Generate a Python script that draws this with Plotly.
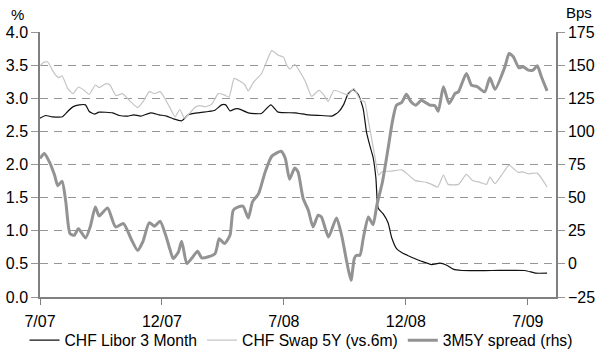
import plotly.graph_objects as go

# Weekly observation index (0 = start of July 2007) and the tick labels shown on the axis
tick_weeks = [0, 26, 52, 78, 104]
tick_labels = ["7/07", "12/07", "7/08", "12/08", "7/09"]

# CHF Libor 3 Month, %
libor_wk = [0, 1.2, 2.6, 4.8, 5.9, 7.0, 8.4, 9.7, 10.5, 11.6, 12.6, 15.5, 16.9, 18.7, 20.0,
            21.5, 23.6, 25.4, 27.0, 28.4, 30.2, 31.6, 33.7, 35.9, 37.3, 38.7, 39.6, 40.5, 41.6,
            42.4, 44.4, 47.2, 49.2, 50.8, 54.3, 57.2, 60.0, 62.2, 63.6, 64.7, 65.7, 66.8, 67.9,
            68.9, 69.6, 70.3, 71.0, 71.6, 72.1, 73.2, 74.2, 75.0, 76.0, 77.1, 79.2, 81.3, 83.5,
            85.2, 86.7, 88.1, 89.9, 96.3, 103.4, 105.6, 108.1]
libor_pct = [2.70, 2.74, 2.72, 2.72, 2.80, 2.87, 2.90, 2.90, 2.80, 2.76, 2.79, 2.78, 2.74, 2.73, 2.75,
             2.73, 2.78, 2.75, 2.73, 2.69, 2.66, 2.75, 2.78, 2.80, 2.82, 2.90, 2.90, 2.81, 2.84,
             2.84, 2.78, 2.77, 2.90, 2.79, 2.78, 2.75, 2.74, 2.73, 2.79, 2.90, 3.07, 3.13, 3.05,
             2.84, 2.49, 2.29, 2.11, 1.80, 1.34, 1.25, 1.12, 0.89, 0.73, 0.67, 0.60, 0.54, 0.49,
             0.51, 0.48, 0.42, 0.40, 0.40, 0.40, 0.36, 0.36]

# CHF Swap 5Y (vs. 6m), %
swap_wk = [0, 0.7, 1.6, 3.1, 4.1, 4.7, 5.9, 7.0, 8.2, 9.4, 10.5, 11.8, 12.6, 14.1, 14.9, 16.2,
           17.6, 19.0, 20.8, 21.9, 23.3, 24.4, 25.6, 26.6, 27.6, 28.8, 29.8, 30.8, 32.0, 33.0,
           34.1, 35.2, 36.6, 38.0, 39.3, 40.3, 41.4, 42.6, 43.7, 44.4, 45.5, 47.2, 48.3, 49.4,
           50.8, 51.9, 52.6, 53.3, 54.3, 55.4, 56.6, 57.9, 59.5, 60.6, 61.4, 62.7, 64.4, 65.7,
           66.9, 68.3, 69.2, 69.9, 70.7, 71.4, 72.2, 72.9, 75.0, 77.1, 78.1, 79.9, 82.4, 83.5,
           84.8, 86.0, 87.0, 89.2, 90.9, 92.2, 93.8, 95.2, 95.9, 97.0, 98.4, 100.0, 100.9, 102.0,
           102.8, 104.1, 106.0, 108.1]
swap_pct = [3.49, 3.54, 3.55, 3.37, 3.31, 3.34, 3.15, 3.07, 3.17, 3.12, 3.06, 3.20, 3.16, 3.22, 3.20, 3.04,
            3.07, 2.97, 2.86, 2.94, 3.10, 3.07, 3.10, 3.00, 2.87, 2.72, 2.83, 2.70, 2.78, 2.86,
            2.89, 2.87, 2.91, 3.07, 3.05, 3.02, 3.30, 3.26, 3.20, 3.11, 3.24, 3.37, 3.55, 3.72,
            3.65, 3.62, 3.50, 3.44, 3.51, 3.40, 3.25, 3.03, 3.12, 3.04, 2.95, 3.12, 3.08, 3.05,
            3.15, 2.97, 2.95, 2.70, 2.39, 2.11, 1.84, 1.89, 1.90, 1.92, 1.87, 1.76, 1.73, 1.70,
            1.66, 1.84, 1.70, 1.70, 1.85, 1.76, 1.73, 1.70, 1.81, 1.71, 1.84, 1.99, 1.94, 1.88,
            1.89, 1.86, 1.87, 1.66]

# 3M5Y spread, basis points (right-hand scale)
spread_wk = [0, 0.9, 2.0, 3.1, 3.8, 4.7, 5.5, 6.4, 7.3, 8.2, 9.7, 10.7, 11.8, 12.6, 14.4, 16.1,
             17.8, 19.4, 20.8, 21.9, 23.3, 24.4, 25.6, 26.8, 27.7, 28.4, 29.5, 30.2, 31.3, 32.3,
             33.6, 34.5, 37.3, 38.2, 39.3, 40.5, 41.2, 42.3, 43.3, 44.4, 45.3, 46.6, 48.0, 49.4,
             50.5, 51.4, 52.3, 53.2, 54.3, 55.0, 56.1, 57.2, 58.2, 59.3, 60.0, 61.5, 63.2, 64.3,
             65.4, 66.3, 67.0, 67.5, 68.2, 68.9, 70.0, 71.0, 71.8, 73.0, 74.2, 75.1, 76.0, 77.1,
             78.1, 79.1, 80.1, 81.3, 82.3, 83.1, 84.2, 84.9, 86.0, 87.2, 88.5, 89.2, 90.9, 92.0,
             93.1, 94.8, 95.9, 97.0, 99.1, 100.0, 100.9, 102.1, 103.0, 104.1, 105.1, 106.0, 106.9,
             108.1]
spread_bps = [79.5, 83.3, 77, 67, 59, 62.4, 46.8, 22.8, 21.6, 26.6, 19.6, 27.9, 43, 36.2, 42.2, 27.9,
              30.4, 19, 10.2, 16.5, 31.1, 28.4, 32.2, 21.6, 11, 4, 9, 17, 0.2, 4,
              9.5, 4.5, 7.7, 19, 15.3, 21.6, 40.5, 43, 43.5, 34.7, 46.8, 53, 69.4, 81.2,
              83.8, 85, 79.5, 63.9, 72.4, 69.4, 49.3, 40.5, 27.9, 36.7, 35.4, 20.3, 34.7, 21.6,
              1.4, -12.4, 4, 6.5, 6.5, 19, 35.4, 29.6, 44.2, 61.8, 87, 107, 119.8, 121.8,
              128, 122.3, 119.8, 123.5, 121.5, 119.8, 119.3, 115.2, 133.6, 121, 128.6, 129.8, 143.7, 134.8,
              134, 129.8, 140.4, 131.8, 148.7, 158.8, 156.3, 148, 148.7, 146.2, 146.2, 149.5, 141,
              130.6]

FONT = "Liberation Sans, Arial, sans-serif"
AXIS_GREY = "#808080"
GRID_GREY = "#969696"
TICK_SIZE = 16

fig = go.Figure()

fig.add_trace(go.Scatter(
    x=libor_wk, y=libor_pct, name="CHF Libor 3 Month", mode="lines",
    line=dict(color="#111111", width=1.2, shape="spline", smoothing=0.5),
))
fig.add_trace(go.Scatter(
    x=swap_wk, y=swap_pct, name="CHF Swap 5Y (vs.6m)", mode="lines",
    line=dict(color="#c4c4c4", width=1.2, shape="spline", smoothing=0.5),
))
fig.add_trace(go.Scatter(
    x=spread_wk, y=spread_bps, name="3M5Y spread (rhs)", mode="lines", yaxis="y2",
    line=dict(color="#939393", width=3, shape="spline", smoothing=0.6),
))

fig.update_layout(
    width=600, height=353,
    margin=dict(l=40, r=44, t=32, b=56, autoexpand=False),
    paper_bgcolor="white", plot_bgcolor="white",
    font=dict(family=FONT, size=TICK_SIZE, color="black"),
    showlegend=True,
    legend=dict(
        orientation="h", x=-0.03, xanchor="left", y=-0.1, yanchor="top",
        font=dict(family=FONT, size=15.7, color="black"),
        bgcolor="rgba(0,0,0,0)", borderwidth=0, itemwidth=30,
        tracegroupgap=0,
    ),
    xaxis=dict(
        range=[0, 110], tickmode="array", tickvals=tick_weeks, ticktext=tick_labels,
        showgrid=False, zeroline=False,
        showline=True, linecolor=AXIS_GREY, linewidth=1.5,
        ticks="outside", ticklen=6, tickcolor=AXIS_GREY, tickwidth=1,
        ticklabelstandoff=3,
        tickfont=dict(family=FONT, size=TICK_SIZE),
    ),
    yaxis=dict(
        range=[0, 4], tickmode="array", tickvals=[0, 0.5, 1, 1.5, 2, 2.5, 3, 3.5, 4],
        ticktext=["0.0", "0.5", "1.0", "1.5", "2.0", "2.5", "3.0", "3.5", "4.0"],
        showgrid=True, gridcolor=GRID_GREY, griddash="8px,6px", gridwidth=1.2,
        zeroline=False, showline=True, linecolor=AXIS_GREY, linewidth=1.5,
        ticks="outside", ticklen=7, tickcolor=GRID_GREY, tickwidth=1,
        tickfont=dict(family=FONT, size=TICK_SIZE),
    ),
    yaxis2=dict(
        range=[-25, 175], overlaying="y", side="right",
        tickmode="array", tickvals=[-25, 0, 25, 50, 75, 100, 125, 150, 175],
        showgrid=False, zeroline=False, showline=True, linecolor=AXIS_GREY, linewidth=1.5,
        ticks="outside", ticklen=7, tickcolor=GRID_GREY, tickwidth=1,
        tickfont=dict(family=FONT, size=TICK_SIZE),
    ),
    annotations=[
        dict(text="%", xref="paper", yref="paper", x=-0.0436, y=1.066,
             xanchor="center", yanchor="middle", showarrow=False,
             font=dict(family=FONT, size=15)),
        dict(text="Bps", xref="paper", yref="paper", x=1.0446, y=1.072,
             xanchor="center", yanchor="middle", showarrow=False,
             font=dict(family=FONT, size=15)),
    ],
)

fig.write_html("out.html")
